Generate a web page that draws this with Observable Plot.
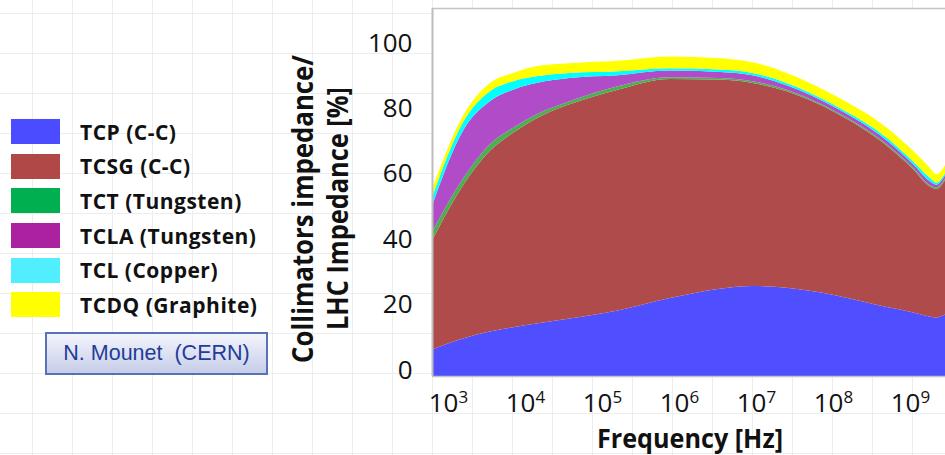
<!DOCTYPE html>
<html>
<head>
<meta charset="utf-8">
<script src="https://cdn.jsdelivr.net/npm/d3@7"></script>
<script src="https://cdn.jsdelivr.net/npm/@observablehq/plot@0.6"></script>
<style>
  html, body { margin: 0; padding: 0; }
  body {
    width: 945px; height: 455px; overflow: hidden; position: relative;
    background-color: #fff;
    background-image:
      linear-gradient(to right, #ededed 1px, transparent 1px),
      linear-gradient(to bottom, #ededed 1px, transparent 1px);
    background-size: 40px 40px;
    background-position: 32px 13px;
    font-family: "Open Sans", sans-serif;
  }
  #chart { position: absolute; left: 0; top: 0; }
  #legend { position: absolute; left: 11px; top: 119px; }
  .row { display: flex; align-items: center; height: 34.6px; }
  .row .sw { width: 49px; height: 25px; box-sizing: border-box; margin-top: -9px; }
  .row .lb { margin-left: 20px; font-weight: bold; font-size: 21px; letter-spacing: 0.5px; color: #111; margin-top: -9px; white-space: pre; }
  #credit {
    position: absolute; left: 45px; top: 332px; width: 223px; height: 43px; box-sizing: border-box;
    border: 2px solid #5a70b8;
    background: linear-gradient(to bottom, #f3f5fc, #c6cde8);
    color: #1f3c98; font-family: "Liberation Sans", Arial, sans-serif; font-size: 21.5px;
    display: flex; align-items: center; justify-content: center; white-space: pre;
  }
</style>
</head>
<body>
<div id="chart"></div>
<div id="legend"></div>
<div id="credit">N. Mounet  (CERN)</div>
<script>
// Frequencies [Hz]
const freqs = [620, 1.6e3, 3.5e3, 7e3, 1.4e4, 3.8e4, 1.6e5, 7.6e5, 3.4e6, 9e6, 2.5e7, 1.1e8, 5e8, 1.1e9, 1.8e9, 2.2e9, 2.85e9];
// Contribution of each collimator family [%] (stacked)
const tcp  = [7.9, 11.3, 13.3, 14.6, 15.7, 17.2, 19.6, 23.3, 26.1, 26.9, 26.4, 24.1, 20.6, 19.0, 17.8, 17.5, 18.4];
const tcsg = [32.6, 46.0, 54.0, 58.1, 61.3, 64.0, 66.0, 65.5, 62.5, 60.7, 58.7, 54.5, 48.2, 42.8, 38.9, 38.4, 40.1];
const tct  = [2.5, 2.0, 2.0, 1.5, 1.2, 0.9, 1.0, 0.5, 0.5, 0.5, 0.5, 0.4, 0.5, 0.5, 0.4, 0.5, 0.5];
const tcla = [7.9, 14.4, 12.8, 11.4, 9.4, 7.0, 3.3, 2.0, 1.8, 1.8, 1.3, 1.1, 1.1, 1.0, 1.2, 0.8, 1.0];
const tcl  = [2.5, 2.5, 3.0, 2.5, 2.0, 1.5, 1.2, 0.7, 0.7, 0.7, 0.7, 0.6, 0.8, 0.8, 1.0, 0.6, 0.6];
const tcdq = [2.5, 2.0, 2.5, 2.5, 3.0, 2.9, 3.1, 3.5, 3.4, 3.2, 3.0, 2.9, 3.0, 3.2, 3.0, 2.5, 2.4];

const seriesNames  = ["TCP", "TCSG", "TCT", "TCLA", "TCL", "TCDQ"];
const legendLabels = ["TCP (C-C)", "TCSG (C-C)", "TCT (Tungsten)", "TCLA (Tungsten)", "TCL (Copper)", "TCDQ (Graphite)"];
const areaColors   = ["#4f4fff", "#b04b4b", "#4caf50", "#b04cc8", "#00ffff", "#ffff00"];
const legendColors = ["#4b4bff", "#b04848", "#00b050", "#aa22a0", "#50eeff", "#ffff00"];
const xTicks = [1e3, 1e4, 1e5, 1e6, 1e7, 1e8, 1e9];
const yTicks = [0, 20, 40, 60, 80, 100];

const seriesValues = [tcp, tcsg, tct, tcla, tcl, tcdq];
const data = [];
seriesNames.forEach((s, k) => freqs.forEach((f, i) => data.push({f, v: seriesValues[k][i], series: s})));

// the reference's tick labels sit slightly off the gridline values; mimic that placement
const labelPos = v => 1.8 + 0.978 * v;
const labelVal = p => Math.round((p - 1.8) / 0.978);

const chart = Plot.plot({
  width: 945, height: 455,
  marginLeft: 432, marginRight: 0, marginTop: 8, marginBottom: 79,
  style: {background: "transparent", fontFamily: "Open Sans, sans-serif", color: "#111"},
  x: {type: "log", domain: [620, 2.85e9]},
  y: {domain: [0, 110]},
  color: {domain: seriesNames, range: areaColors},
  marks: [
    Plot.frame({fill: "white", stroke: null}),
    Plot.areaY(data, {x: "f", y: "v", fill: "series", order: seriesNames, curve: "monotone-x"}),
    Plot.ruleY([0], {stroke: "#c4c4c4", strokeWidth: 1.5}),
    Plot.ruleY([110], {stroke: "#c4c4c4", strokeWidth: 1.5}),
    Plot.ruleX([620], {stroke: "#bdbdbd", strokeWidth: 2}),
    Plot.axisY({ticks: yTicks.map(labelPos), tickFormat: p => String(labelVal(p)),
      tickSize: 0, tickPadding: 20, fontSize: 26, label: null}),
    Plot.axisX({ticks: xTicks, tickSize: 0, tickPadding: 17, fontSize: 26, label: null,
      tickFormat: d => String(Math.round(Math.log10(d)))})
  ]
});
document.getElementById("chart").appendChild(chart);

const ns = "http://www.w3.org/2000/svg";
chart.querySelectorAll('[aria-label="x-axis tick label"] text').forEach(t => {
  const e = t.textContent;
  t.textContent = "10";
  const ts = document.createElementNS(ns, "tspan");
  ts.setAttribute("dy", "-9");
  ts.setAttribute("font-size", "17");
  ts.textContent = e;
  t.appendChild(ts);
});

const svg = d3.select(chart);
const yl = svg.append("g").attr("font-weight", "bold").attr("font-size", 28).attr("fill", "#111").attr("text-anchor", "middle");
[["Collimators impedance/", 313, 209, 308], ["LHC Impedance [%]", 348, 208.5, 243]].forEach(([t, x, y, len]) => {
  yl.append("text").attr("transform", `translate(${x},${y}) rotate(-90)`)
    .attr("textLength", len).attr("lengthAdjust", "spacingAndGlyphs").text(t);
});
svg.append("text").attr("x", 690).attr("y", 448).attr("text-anchor", "middle")
  .attr("textLength", 186).attr("lengthAdjust", "spacingAndGlyphs")
  .attr("font-weight", "bold").attr("font-size", 26).attr("fill", "#111").text("Frequency [Hz]");

const legend = d3.select("#legend");
seriesNames.forEach((s, k) => {
  const r = legend.append("div").attr("class", "row");
  r.append("div").attr("class", "sw").style("background", legendColors[k]);
  r.append("div").attr("class", "lb").text(legendLabels[k]);
});
</script>
</body>
</html>
